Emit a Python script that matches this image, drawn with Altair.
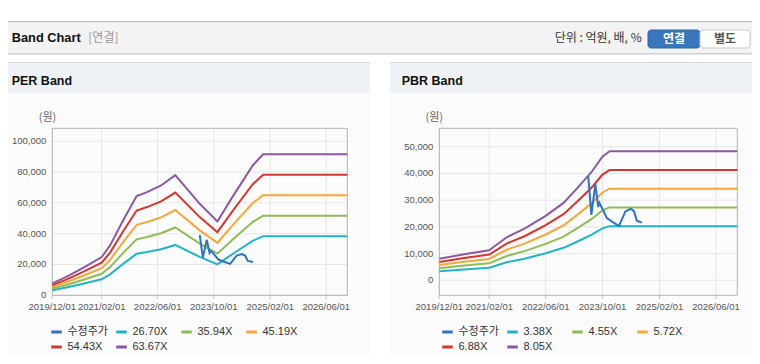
import altair as alt
import pandas as pd

# ---------------- data ----------------
TICK_DATES = ["2019-12-01", "2021-02-01", "2022-06-01", "2023-10-01", "2025-02-01", "2026-06-01"]
TICK_LABELS = ["2019/12/01", "2021/02/01", "2022/06/01", "2023/10/01", "2025/02/01", "2026/06/01"]
X_START = "2019-12-01"
X_END = "2026-12-01"

STOCK_NAME = "수정주가"
SERIES_COLORS = ["#2f72c2", "#21b3c8", "#8fbd55", "#f4a73b", "#d1372d", "#8c58a0"]

PER_NAMES = ["26.70X", "35.94X", "45.19X", "54.43X", "63.67X"]
PER_DATES = ["2019-12-01", "2020-04-01", "2020-09-01", "2021-02-01", "2021-04-15", "2021-08-01",
             "2021-12-01", "2022-03-01", "2022-07-01", "2022-11-01", "2023-06-01", "2023-11-01",
             "2024-03-15", "2024-09-01", "2024-12-01", "2026-12-01"]
PER_26_70 = [3250, 5000, 7600, 10400, 13600, 20100, 27000, 28100, 29900, 32700, 24900, 20100, 27000, 35300, 38400, 38400]
PER_35_94 = [4380, 6730, 10230, 14000, 18310, 27060, 36340, 37820, 40250, 44020, 33520, 27060, 36340, 47520, 51690, 51690]
PER_45_19 = [5500, 8460, 12860, 17600, 23020, 34020, 45700, 47560, 50610, 55340, 42140, 34020, 45700, 59750, 64990, 64990]
PER_54_43 = [6630, 10190, 15490, 21200, 27720, 40980, 55040, 57280, 60950, 66660, 50760, 40980, 55040, 71960, 78280, 78280]
PER_63_67 = [7750, 11920, 18120, 24800, 32430, 47930, 64380, 67010, 71300, 77980, 59380, 47930, 64380, 84180, 91570, 91570]
PER_Y_TICKS = [0, 20000, 40000, 60000, 80000, 100000]
PER_Y_LABELS = ["0", "20,000", "40,000", "60,000", "80,000", "100,000"]

PBR_NAMES = ["3.38X", "4.55X", "5.72X", "6.88X", "8.05X"]
PBR_DATES = ["2019-12-01", "2020-07-01", "2021-02-01", "2021-07-01", "2021-12-01", "2022-06-01",
             "2022-11-01", "2023-03-01", "2023-07-01", "2023-10-01", "2023-12-01", "2026-12-01"]
PBR_3_38 = [3380, 4090, 4730, 6760, 8110, 10140, 12170, 14530, 17070, 19440, 20280, 20280]
PBR_4_55 = [4550, 5510, 6370, 9100, 10920, 13650, 16380, 19570, 22980, 26160, 27300, 27300]
PBR_5_72 = [5720, 6920, 8010, 11440, 13730, 17160, 20590, 24600, 28890, 32890, 34320, 34320]
PBR_6_88 = [6880, 8320, 9630, 13760, 16510, 20640, 24770, 29580, 34740, 39560, 41280, 41280]
PBR_8_05 = [8050, 9740, 11270, 16100, 19320, 24150, 28980, 34620, 40650, 46290, 48300, 48300]
PBR_Y_TICKS = [0, 10000, 20000, 30000, 40000, 50000]
PBR_Y_LABELS = ["0", "10,000", "20,000", "30,000", "40,000", "50,000"]

STOCK_DATES = ["2023-06-01", "2023-06-28", "2023-08-01", "2023-08-25", "2023-09-05", "2023-09-28",
               "2023-11-08", "2023-12-28", "2024-02-20", "2024-04-15", "2024-06-01", "2024-06-28",
               "2024-07-22", "2024-09-04"]
STOCK_VALUES = [39000, 24500, 36000, 27500, 29000, 27000, 23300, 21800, 20400, 25800, 26800, 25800, 22300, 21600]

# ---------------- layout (chart coordinates) ----------------
W, H = 744, 346
PLOT_TOP, PLOT_BOTTOM = 120.3, 287.3
PER_X_RANGE = [44.3, 339.3]
PBR_X_RANGE = [431.3, 729.3]
PER_Y_DOMAIN = [0, 108400]
PBR_Y_DOMAIN = [-5600, 56900]

LFONT = "Liberation Sans, Noto Sans CJK KR, sans-serif"
KFONT = "Noto Sans CJK KR, Liberation Sans, sans-serif"
GRID = "#e6e6e6"
FRAME = "#b3b3b3"
LABEL = "#555555"
AXIS_FS = 9.5

ONE = alt.Data(values=[{"k": 0}])


def dt(s):
    y, m, d = (int(p) for p in s.split("-"))
    return alt.DateTime(year=y, month=m, date=d, utc=True)


def band_block(names, dates, lists, x_range, y_domain, y_ticks, y_labels, legend_x):
    rows = []
    for name, vals in zip(names, lists):
        for d, v in zip(dates, vals):
            rows.append({"date": d, "value": v, "series": name})
    band_df = pd.DataFrame(rows)
    stock_df = pd.DataFrame({"date": STOCK_DATES, "value": STOCK_VALUES, "series": STOCK_NAME})
    xt_df = pd.DataFrame({"date": TICK_DATES, "label": TICK_LABELS})
    yt_df = pd.DataFrame({"value": y_ticks, "label": y_labels})

    xs = alt.Scale(type="utc", domain=[dt(X_START), dt(X_END)], range=x_range)
    ys = alt.Scale(domain=y_domain, range=[PLOT_BOTTOM, PLOT_TOP], nice=False, zero=False)
    cs = alt.Scale(domain=[STOCK_NAME] + names, range=SERIES_COLORS)

    legend = alt.Legend(orient="none", legendX=legend_x, legendY=317, direction="horizontal",
                        columns=4, title=None, symbolType="stroke", symbolStrokeWidth=3,
                        symbolSize=110, labelFont=LFONT, labelFontSize=11, labelColor="#333333",
                        labelOffset=4, columnPadding=1, rowPadding=2, gridAlign="all", padding=0)

    x_start = alt.XDatum(datum=dt(X_START), type="temporal", scale=xs, axis=None)
    y_top = alt.YDatum(datum=y_domain[1], type="quantitative", scale=ys, axis=None)
    y_bot = alt.YDatum(datum=y_domain[0], type="quantitative", scale=ys, axis=None)
    xd = alt.X("date:T", scale=xs, axis=None)
    yv = alt.Y("value:Q", scale=ys, axis=None)

    vgrid = alt.Chart(xt_df).mark_rule(color=GRID, strokeWidth=1).encode(
        x=xd, y=y_top, y2=alt.Y2Datum(datum=y_domain[0]))
    hgrid = alt.Chart(yt_df).mark_rule(color=GRID, strokeWidth=1).encode(
        y=yv, x=x_start, x2=alt.X2Datum(datum=dt(X_END)))
    frame = alt.Chart(ONE).mark_rect(fillOpacity=0, stroke=FRAME, strokeWidth=1).encode(
        x=x_start, x2=alt.X2Datum(datum=dt(X_END)), y=y_top, y2=alt.Y2Datum(datum=y_domain[0]))
    xticks = alt.Chart(xt_df).mark_tick(orient="vertical", size=4, thickness=1, color=FRAME,
                                        yOffset=2).encode(x=xd, y=y_bot)
    xlabels = alt.Chart(xt_df).mark_text(fontSize=AXIS_FS, font=LFONT, color=LABEL, dy=12,
                                         baseline="middle", align="center").encode(
        x=xd, y=y_bot, text="label:N")
    ylabels = alt.Chart(yt_df).mark_text(fontSize=AXIS_FS, font=LFONT, color=LABEL, dx=-6,
                                         baseline="middle", align="right").encode(
        y=yv, x=x_start, text="label:N")
    bands = alt.Chart(band_df).mark_line(strokeWidth=2).encode(
        x=xd, y=yv, color=alt.Color("series:N", scale=cs, legend=legend))
    stock = alt.Chart(stock_df).mark_line(strokeWidth=2).encode(
        x=xd, y=yv, color=alt.Color("series:N", scale=cs, legend=legend))
    return alt.layer(vgrid, hgrid, frame, xticks, xlabels, ylabels, bands, stock)


def box(x, x2, y, y2, fill, stroke=None, radius=0):
    kw = dict(fill=fill)
    if stroke:
        kw.update(stroke=stroke, strokeWidth=1)
    if radius:
        kw.update(cornerRadius=radius)
    return alt.Chart(ONE).mark_rect(**kw).encode(
        x=alt.value(x), x2=alt.value(x2), y=alt.value(y), y2=alt.value(y2))


def txt(s, x, y, size, color, weight="normal", align="left", font=KFONT):
    return alt.Chart(ONE).mark_text(text=s, align=align, baseline="middle", fontSize=size,
                                    color=color, fontWeight=weight, font=font).encode(
        x=alt.value(x), y=alt.value(y))


decor = [
    # top header band
    box(0, W, 13, 14.5, "#bdbdbd"),
    box(0, W, 14.5, 45, "#f3f3f3"),
    box(0, W, 45, 46, "#cfcfcf"),
    box(0, W, 46, 47, "#e6e6e6"),
    # panels
    box(0, 362, 55, 85, "#eef1f6"),
    box(0, 362, 54, 55, "#dadada"),
    box(0, 362, 85, H, "#fbfbfb"),
    box(382, W, 55, 85, "#eef1f6"),
    box(382, W, 54, 55, "#dadada"),
    box(382, W, 85, H, "#fbfbfb"),
    # buttons
    box(640, 692, 22, 40, "#3877bb", stroke="#2f68a8", radius=3),
    box(692, 742, 22, 40, "#ffffff", stroke="#c8c8c8", radius=3),
    txt("Band Chart", 3.7, 30.3, 12.8, "#111111", weight="bold", font=LFONT),
    txt("[연결]", 80.3, 30.3, 12, "#999999"),
    txt("단위 : 억원, 배, %", 633.7, 30.3, 12, "#333333", align="right"),
    txt("연결", 666, 31, 12, "#ffffff", weight="bold", align="center"),
    txt("별도", 717, 31, 12, "#555555", weight="bold", align="center"),
    txt("PER Band", 3.7, 72.7, 12.5, "#111111", weight="bold", font=LFONT),
    txt("PBR Band", 393.7, 72.7, 12.5, "#111111", weight="bold", font=LFONT),
    txt("(원)", 39.5, 110.3, 11, "#666666", align="center"),
    txt("(원)", 426.2, 110.3, 11, "#666666", align="center"),
]

per_block = band_block(PER_NAMES, PER_DATES, [PER_26_70, PER_35_94, PER_45_19, PER_54_43, PER_63_67],
                       PER_X_RANGE, PER_Y_DOMAIN, PER_Y_TICKS, PER_Y_LABELS, 41.5)
pbr_block = band_block(PBR_NAMES, PBR_DATES, [PBR_3_38, PBR_4_55, PBR_5_72, PBR_6_88, PBR_8_05],
                       PBR_X_RANGE, PBR_Y_DOMAIN, PBR_Y_TICKS, PBR_Y_LABELS, 432.5)

chart = (
    alt.layer(*decor, per_block, pbr_block)
    .resolve_scale(x="independent", y="independent", color="independent")
    .resolve_legend(color="independent")
    .properties(width=W, height=H, autosize=alt.AutoSizeParams(type="none"), padding=0,
                background="#ffffff")
    .configure_view(strokeWidth=0)
)

chart.save("out.html", embed_options={"renderer": "svg", "actions": False})
